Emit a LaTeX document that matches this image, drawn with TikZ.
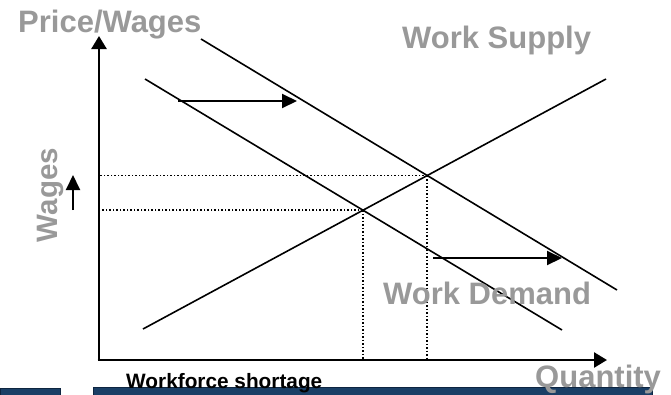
\documentclass[tikz,border=0pt]{standalone}
\usepackage{fontspec}
\setmainfont{Liberation Sans}
\usetikzlibrary{positioning,arrows.meta,intersections}
\definecolor{textgray}{HTML}{999999}
\definecolor{barblue}{HTML}{1A3F66}
\definecolor{baredge}{HTML}{0E2540}

\begin{document}
\begin{tikzpicture}[
  x=1pt, y=-1pt,
  schedule/.style={line width=1.6pt},
  axisline/.style={line width=2.6pt, -{Triangle[length=13pt,width=15pt]}},
  moveline/.style={line width=2pt, -{Triangle[length=15pt,width=14pt]}},
  dropline/.style={line width=1.6pt, dash pattern=on 1.7pt off 1.8pt},
  graytext/.style={font=\bfseries\fontsize{31}{31}\selectfont, text=textgray, inner sep=0pt},
  bartext/.style={font=\bfseries\fontsize{20.8}{20.8}\selectfont, inner sep=0pt},
  barbox/.style={fill=barblue, draw=baredge, line width=0.8pt}
]
\useasboundingbox (0,0) rectangle (671,394);

%Bars
\path[barbox] (0,388) rectangle (60,398);
\path[barbox] (93,387) rectangle (652,398);

%Coordinates
\coordinate (origin) at (99,360);
\coordinate (ytip) at (99,36);
\coordinate (xtip) at (607,360);
\coordinate (s1) at (143,329);
\coordinate (s2) at (606,79);
\coordinate (d1) at (145,79);
\coordinate (d2) at (562,330);
\coordinate (e1) at (201,39);
\coordinate (e2) at (617,290);
\coordinate (up1) at (178,101);
\coordinate (up2) at (297,101);
\coordinate (lo1) at (433,258);
\coordinate (lo2) at (562,258);
\coordinate (w1) at (73,210);
\coordinate (w2) at (73,175);

%Lines
\draw[schedule, name path=supply] (s1) -- (s2);
\draw[schedule, name path=demand] (d1) -- (d2);
\draw[schedule, name path=newdemand] (e1) -- (e2);
\path[name intersections={of=supply and demand, by=eqold}];
\path[name intersections={of=supply and newdemand, by=eqnew}];

%Dotted guides
\draw[dropline] (eqold) -- (eqold -| origin);
\draw[dropline] (eqold) -- (eqold |- origin);
\draw[dropline] (eqnew) -- (eqnew -| origin);
\draw[dropline] (eqnew) -- (eqnew |- origin);

%Axes
\draw[axisline] (origin) -- (ytip);
\draw[axisline] ([xshift=-1.3pt]origin) -- (xtip);

%Arrows
\draw[moveline] (up1) -- (up2);
\draw[moveline] (lo1) -- (lo2);
\draw[moveline] (w1) -- (w2);

%Labels
\node[graytext, anchor=base west] (price) at (18,32) {Price/Wages};
\node[graytext, anchor=base west] (supplytext) at (402,48) {Work Supply};
\node[graytext, anchor=base west] (demandtext) at (383,304) {Work Demand};
\node[graytext, anchor=base west] (quantity) at (535,387) {Quantity};
\node[graytext, anchor=base, rotate=90, font=\bfseries\fontsize{29.5}{29.5}\selectfont] (wages) at (57,195) {Wages};
\node[bartext, anchor=base west] (shortage) at (126,388) {Workforce shortage};
\end{tikzpicture}
\end{document}
